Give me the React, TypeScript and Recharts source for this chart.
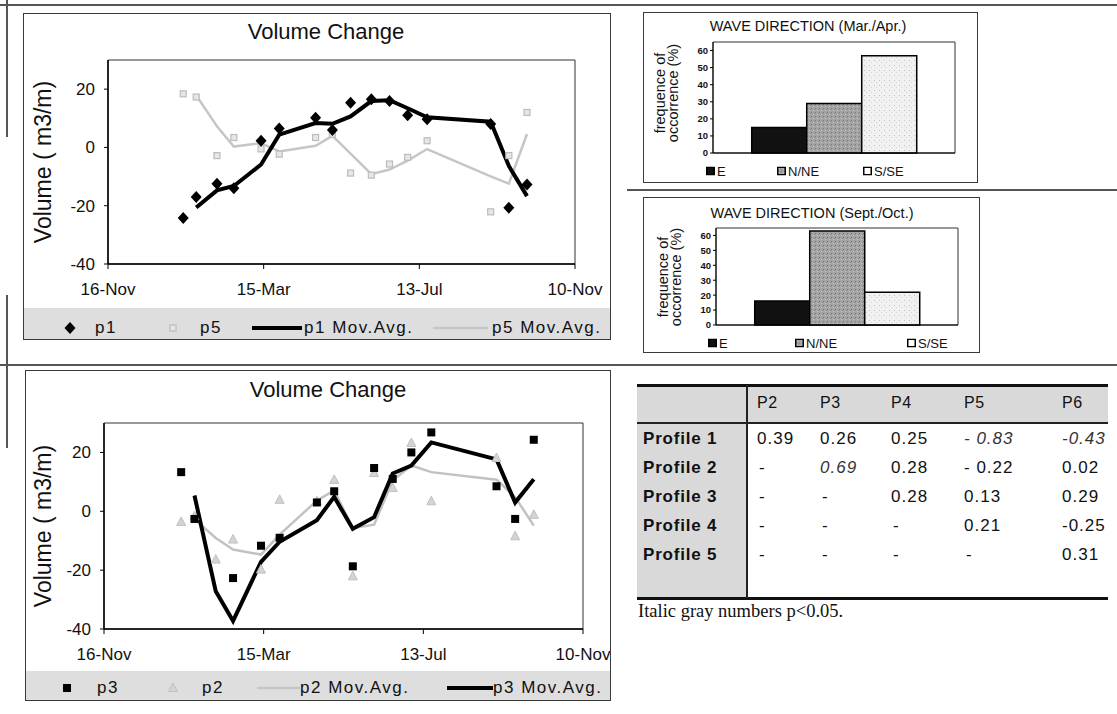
import React from 'react';
import { ComposedChart, Line, Scatter, XAxis, YAxis, ReferenceArea, BarChart, Bar } from 'recharts';

const SANS = "'Liberation Sans', Arial, Helvetica, sans-serif";
const SERIF = "'Liberation Serif', 'Times New Roman', serif";

// Survey dates, counted in days after 16-Nov
const surveyDays = [58, 68, 84, 97, 118, 132, 160, 173, 187, 203, 217, 231, 246, 295, 309, 323];
const dateTicks = [0, 120, 240, 360];
const dateTickLabels = ['16-Nov', '15-Mar', '13-Jul', '10-Nov'];
const volumeTicks = [-40, -20, 0, 20];

// Volume change per beach profile (m3/m)
const p1Volume = [-24.2, -17, -12.5, -14, 2.3, 6.5, 10.2, 6, 15.3, 16.5, 15.9, 11, 9.7, 8, -20.7, -12.7];
const p5Volume = [18.4, 17.3, -2.8, 3.4, -0.5, -2.3, 3.4, 4.5, -8.8, -9.5, -5.7, -3.4, 2.3, -22.1, -2.8, 12];
const p3Volume = [13.3, -2.6, -51.8, -22.7, -11.7, -9, 3, 6.8, -18.7, 14.7, 11, 20, 26.8, 8.5, -2.6, 24.3];
const p2Volume = [-3.6, -1.7, -16.4, -9.6, -19.8, 3.9, 3.4, 10.7, -22.1, 13, 7.9, 23.2, 3.4, 18.1, -8.5, -1.2];

// Wave direction, frequency of occurrence (%)
const directionKeys = ['E', 'NNE', 'SSE'];
const directionLabels = ['E', 'N/NE', 'S/SE'];
const marAprFrequency = [15, 29, 57];
const septOctFrequency = [16, 63, 22];
const frequencyTicks = [0, 10, 20, 30, 40, 50, 60];

// Correlation between profiles
const profileColumns = ['P2', 'P3', 'P4', 'P5', 'P6'];
const profileRows = ['Profile 1', 'Profile 2', 'Profile 3', 'Profile 4', 'Profile 5'];
const correlationRows = [
  ['0.39', '0.26', '0.25', '- 0.83', '-0.43'],
  ['-', '0.69', '0.28', '- 0.22', '0.02'],
  ['-', '-', '0.28', '0.13', '0.29'],
  ['-', '-', '-', '0.21', '-0.25'],
  ['-', '-', '-', '-', '0.31'],
];
const significantCells = ['0-3', '0-4', '1-1'];

// Two-period moving average, as drawn by the trendline
const movingAverage = (values: number[]) =>
  values.map((v, i) => (i === 0 ? null : (values[i - 1] + v) / 2));

const topRows = surveyDays.map((day, i) => ({
  day,
  p1: p1Volume[i],
  p5: p5Volume[i],
  p1Avg: movingAverage(p1Volume)[i],
  p5Avg: movingAverage(p5Volume)[i],
}));

const bottomRows = surveyDays.map((day, i) => ({
  day,
  p3: p3Volume[i],
  p2: p2Volume[i],
  p3Avg: movingAverage(p3Volume)[i],
  p2Avg: movingAverage(p2Volume)[i],
}));

const blackDiamond = (p: any) => (
  <path d={`M${p.cx} ${p.cy - 6}L${p.cx + 5.5} ${p.cy}L${p.cx} ${p.cy + 6}L${p.cx - 5.5} ${p.cy}Z`} fill="#000" />
);
const blackSquare = (p: any) => <rect x={p.cx - 4} y={p.cy - 4} width={8} height={8} fill="#000" />;
const graySquare = (p: any) => (
  <rect x={p.cx - 3} y={p.cy - 3} width={6} height={6} fill="#e6e6e6" stroke="#bcbcbc" strokeWidth={1.2} />
);
const grayTriangle = (p: any) => (
  <path d={`M${p.cx} ${p.cy - 5}L${p.cx + 4.5} ${p.cy + 3.5}L${p.cx - 4.5} ${p.cy + 3.5}Z`} fill="#d4d4d4" stroke="#c0c0c0" />
);

type LegendEntry = { icon: 'diamond' | 'square' | 'graySquare' | 'triangle' | 'blackLine' | 'grayLine'; iconX: number; iconW?: number; textX: number; label: string };

function LegendIcon({ icon, w }: { icon: LegendEntry['icon']; w: number }) {
  if (icon === 'blackLine') return <svg width={w} height={6}><line x1={0} y1={3} x2={w} y2={3} stroke="#000" strokeWidth={4} /></svg>;
  if (icon === 'grayLine') return <svg width={w} height={6}><line x1={0} y1={3} x2={w} y2={3} stroke="#c6c6c6" strokeWidth={2.5} /></svg>;
  return (
    <svg width={14} height={14}>
      {icon === 'diamond' && blackDiamond({ cx: 7, cy: 7 })}
      {icon === 'square' && blackSquare({ cx: 7, cy: 7 })}
      {icon === 'graySquare' && graySquare({ cx: 7, cy: 7 })}
      {icon === 'triangle' && grayTriangle({ cx: 7, cy: 7 })}
    </svg>
  );
}

type SeriesDef = { key: string; kind: 'line' | 'points'; color?: string; width?: number; shape?: (p: any) => React.ReactElement };

function VolumePanel(props: {
  left: number; top: number; width: number; height: number;
  inset: { top: number; right: number; bottom: number; left: number };
  rows: any[]; series: SeriesDef[];
  titleX: number; titleY: number; yTitleX: number; yTitleY: number;
  bandTop: number; legendY: number; legend: LegendEntry[];
}) {
  const { left, top, width, height, inset, rows, series } = props;
  return (
    <div style={{ position: 'absolute', left, top, width, height }}>
      <div style={{ position: 'absolute', left: 0, right: 0, top: props.bandTop, bottom: 0, background: '#dedede' }} />
      <div style={{ position: 'absolute', left: 0, top: 0 }}>
        <ComposedChart width={width} height={height} data={rows} margin={{ top: inset.top, right: inset.right, bottom: 0, left: 0 }}>
          <XAxis
            dataKey="day" type="number" domain={[0, 360]} ticks={dateTicks} interval={0}
            tickFormatter={(v: number) => dateTickLabels[dateTicks.indexOf(v)]}
            height={inset.bottom} tickSize={5} tickMargin={14}
            axisLine={{ stroke: '#000', strokeWidth: 1.5 }} tickLine={{ stroke: '#000' }}
            tick={{ fontSize: 17, fill: '#111', fontFamily: SANS }}
          />
          <YAxis
            type="number" domain={[-40, 30]} allowDataOverflow ticks={volumeTicks} interval={0}
            width={inset.left} tickSize={4} tickMargin={9}
            axisLine={{ stroke: '#000', strokeWidth: 1.5 }} tickLine={{ stroke: '#000' }}
            tick={{ fontSize: 17, fill: '#111', fontFamily: SANS }}
          />
          <ReferenceArea x1={0} x2={360} y1={-40} y2={30} fill="none" stroke="#333" strokeWidth={1} />
          {series.map((s) =>
            s.kind === 'line' ? (
              <Line key={s.key} dataKey={s.key} type="linear" stroke={s.color} strokeWidth={s.width} dot={false} activeDot={false} isAnimationActive={false} />
            ) : (
              <Scatter key={s.key} dataKey={s.key} shape={s.shape} isAnimationActive={false} />
            )
          )}
        </ComposedChart>
      </div>
      <div style={{ position: 'absolute', left: props.titleX, top: props.titleY, transform: 'translate(-50%,-50%)', fontSize: 22, whiteSpace: 'nowrap' }}>Volume Change</div>
      <div style={{ position: 'absolute', left: props.yTitleX, top: props.yTitleY, transform: 'translate(-50%,-50%) rotate(-90deg)', fontSize: 23, whiteSpace: 'nowrap' }}>Volume ( m3/m)</div>
      {props.legend.map((e) => (
        <React.Fragment key={e.label}>
          <div style={{ position: 'absolute', left: e.iconX, top: props.legendY, transform: 'translateY(-50%)', lineHeight: 0 }}>
            <LegendIcon icon={e.icon} w={e.iconW ?? 14} />
          </div>
          <div style={{ position: 'absolute', left: e.textX, top: props.legendY, transform: 'translateY(-50%)', fontSize: 17, letterSpacing: 1.5, whiteSpace: 'nowrap' }}>{e.label}</div>
        </React.Fragment>
      ))}
      <div style={{ position: 'absolute', inset: 0, border: '1.5px solid #3a3a3a', pointerEvents: 'none' }} />
    </div>
  );
}

function PatternDefs() {
  return (
    <svg width={0} height={0} style={{ position: 'absolute' }}>
      <defs>
        <pattern id="stippleMid" width={4} height={4} patternUnits="userSpaceOnUse">
          <rect width={4} height={4} fill="#a4a4a4" />
          <rect x={0} y={0} width={1} height={1} fill="#777" />
          <rect x={2} y={2} width={1} height={1} fill="#cacaca" />
          <rect x={3} y={1} width={1} height={1} fill="#8a8a8a" />
        </pattern>
        <pattern id="stippleLight" width={5} height={5} patternUnits="userSpaceOnUse">
          <rect width={5} height={5} fill="#f1f1f1" />
          <rect x={1} y={3} width={1} height={1} fill="#c2c2c2" />
          <rect x={3} y={0} width={1} height={1} fill="#d6d6d6" />
        </pattern>
      </defs>
    </svg>
  );
}

const swatchFill = ['#111', 'url(#stippleMid)', '#fff'];

function FrequencyPanel(props: {
  left: number; top: number; width: number; height: number;
  inset: { top: number; right: number; bottom: number; left: number };
  title: string; titleX: number; titleY: number; yLabelX: number; yLabelY: number;
  values: number[]; legendX: number[]; legendY: number;
}) {
  const { left, top, width, height, inset } = props;
  const row: Record<string, string | number> = { group: 'all' };
  directionKeys.forEach((k, i) => { row[k] = props.values[i]; });
  const fills = ['#111', 'url(#stippleMid)', 'url(#stippleLight)'];
  return (
    <div style={{ position: 'absolute', left, top, width, height }}>
      <div style={{ position: 'absolute', left: 0, top: 0 }}>
        <BarChart width={width} height={height} data={[row]} margin={{ top: inset.top, right: inset.right, bottom: 0, left: 0 }} barCategoryGap="16%" barGap={0}>
          <XAxis dataKey="group" tick={false} tickLine={false} height={inset.bottom} axisLine={{ stroke: '#000', strokeWidth: 1.2 }} />
          <YAxis
            type="number" domain={[0, 65]} ticks={frequencyTicks} interval={0} width={inset.left}
            tickSize={3} tickMargin={2} axisLine={{ stroke: '#000' }} tickLine={{ stroke: '#000' }}
            tick={{ fontSize: 9.5, fill: '#111', fontFamily: SANS, fontWeight: 700 }}
          />
          <ReferenceArea y1={0} y2={65} fill="none" stroke="#333" strokeWidth={1} />
          {directionKeys.map((k, i) => (
            <Bar key={k} dataKey={k} fill={fills[i]} stroke="#000" strokeWidth={1.5} isAnimationActive={false} />
          ))}
        </BarChart>
      </div>
      <div style={{ position: 'absolute', left: props.titleX, top: props.titleY, transform: 'translate(-50%,-50%)', fontSize: 14.5, whiteSpace: 'nowrap' }}>{props.title}</div>
      <div style={{ position: 'absolute', left: props.yLabelX, top: props.yLabelY, transform: 'translate(-50%,-50%) rotate(-90deg)', fontSize: 14.5, lineHeight: '12.5px', textAlign: 'center', whiteSpace: 'nowrap' }}>
        frequence of<br />occorrence (%)
      </div>
      {directionLabels.map((label, i) => (
        <div key={label} style={{ position: 'absolute', left: props.legendX[i], top: props.legendY, transform: 'translateY(-50%)', display: 'flex', alignItems: 'center', fontSize: 13, whiteSpace: 'nowrap' }}>
          <svg width={9} height={9} style={{ marginRight: 2 }}>
            <rect x={0.75} y={0.75} width={7.5} height={7.5} fill={swatchFill[i]} stroke="#000" strokeWidth={1.5} />
          </svg>
          {label}
        </div>
      ))}
      <div style={{ position: 'absolute', inset: 0, border: '1.5px solid #3a3a3a', pointerEvents: 'none' }} />
    </div>
  );
}

// Table layout
const tableLeft = 637;
const tableRight = 1108;
const tableTop = 385;
const headerBottom = 423;
const tableBottom = 598;
const firstColRight = 747;
const columnX = [757, 820, 891, 964, 1062];
const headerY = 403;
const rowY = [439, 468, 497, 526, 555];

function CorrelationTable() {
  const abs = (l: number, t: number, w: number, h: number, bg: string): React.CSSProperties => ({ position: 'absolute', left: l, top: t, width: w, height: h, background: bg });
  return (
    <>
      <div style={abs(tableLeft, tableTop, tableRight - tableLeft, headerBottom - tableTop, '#d9d9d9')} />
      <div style={abs(tableLeft, headerBottom, firstColRight - tableLeft, tableBottom - headerBottom, '#d9d9d9')} />
      <div style={abs(tableLeft, tableTop - 1.5, tableRight - tableLeft, 3, '#111')} />
      <div style={abs(tableLeft, headerBottom - 1, tableRight - tableLeft, 2, '#222')} />
      <div style={abs(tableLeft, tableBottom - 1.5, tableRight - tableLeft, 3, '#111')} />
      <div style={abs(firstColRight - 1, tableTop, 2, tableBottom - tableTop, '#222')} />
      {profileColumns.map((c, j) => (
        <div key={c} style={{ position: 'absolute', left: columnX[j], top: headerY, transform: 'translateY(-50%)', fontSize: 16, letterSpacing: 0.5 }}>{c}</div>
      ))}
      {profileRows.map((r, i) => (
        <React.Fragment key={r}>
          <div style={{ position: 'absolute', left: 643, top: rowY[i], transform: 'translateY(-50%)', fontSize: 17, fontWeight: 700, letterSpacing: 0.8, whiteSpace: 'nowrap' }}>{r}</div>
          {correlationRows[i].map((v, j) => {
            const sig = significantCells.includes(`${i}-${j}`);
            return (
              <div key={j} style={{ position: 'absolute', left: columnX[j] + (v === '-' ? 2 : 0), top: rowY[i], transform: 'translateY(-50%)', fontSize: 17, letterSpacing: 1, whiteSpace: 'pre', fontStyle: sig ? 'italic' : 'normal', color: sig ? '#333' : '#111' }}>{v}</div>
            );
          })}
        </React.Fragment>
      ))}
      <div style={{ position: 'absolute', left: 638, top: 611, transform: 'translateY(-50%)', fontFamily: SERIF, fontSize: 18.5, whiteSpace: 'nowrap' }}>Italic gray numbers p&lt;0.05.</div>
    </>
  );
}

function PageRules() {
  const rule = (l: number, t: number, w: number, h: number, c = '#555'): React.CSSProperties => ({ position: 'absolute', left: l, top: t, width: w, height: h, background: c });
  return (
    <>
      <div style={rule(0, 4, 1117, 1.5)} />
      <div style={rule(627, 189, 490, 1.5)} />
      <div style={rule(0, 364, 1117, 1.5)} />
      <div style={rule(6, 0, 2, 137)} />
      <div style={rule(6, 295, 2, 153)} />
    </>
  );
}

const topSeries: SeriesDef[] = [
  { key: 'p5Avg', kind: 'line', color: '#c6c6c6', width: 2.5 },
  { key: 'p5', kind: 'points', shape: graySquare },
  { key: 'p1', kind: 'points', shape: blackDiamond },
  { key: 'p1Avg', kind: 'line', color: '#000', width: 4 },
];

const bottomSeries: SeriesDef[] = [
  { key: 'p2Avg', kind: 'line', color: '#c2c2c2', width: 2.5 },
  { key: 'p2', kind: 'points', shape: grayTriangle },
  { key: 'p3', kind: 'points', shape: blackSquare },
  { key: 'p3Avg', kind: 'line', color: '#000', width: 4 },
];

export default function App() {
  return (
    <div style={{ position: 'absolute', left: 0, top: 0, width: 1117, height: 714, background: '#fff', overflow: 'hidden', fontFamily: SANS, color: '#111' }}>
      <PatternDefs />
      <PageRules />
      <VolumePanel
        left={23} top={13} width={588} height={327}
        inset={{ top: 47, right: 36, bottom: 76, left: 85 }}
        rows={topRows} series={topSeries}
        titleX={303} titleY={19} yTitleX={20} yTitleY={149}
        bandTop={295} legendY={315}
        legend={[
          { icon: 'diamond', iconX: 40, textX: 72, label: 'p1' },
          { icon: 'graySquare', iconX: 143, textX: 177, label: 'p5' },
          { icon: 'blackLine', iconX: 229, iconW: 50, textX: 281, label: 'p1 Mov.Avg.' },
          { icon: 'grayLine', iconX: 410, iconW: 55, textX: 469, label: 'p5 Mov.Avg.' },
        ]}
      />
      <VolumePanel
        left={25} top={370} width={586} height={331}
        inset={{ top: 53, right: 28, bottom: 72, left: 79 }}
        rows={bottomRows} series={bottomSeries}
        titleX={303} titleY={20} yTitleX={18} yTitleY={156}
        bandTop={301} legendY={318}
        legend={[
          { icon: 'square', iconX: 35, textX: 72, label: 'p3' },
          { icon: 'triangle', iconX: 141, textX: 177, label: 'p2' },
          { icon: 'grayLine', iconX: 232, iconW: 43, textX: 275, label: 'p2 Mov.Avg.' },
          { icon: 'blackLine', iconX: 422, iconW: 46, textX: 468, label: 'p3 Mov.Avg.' },
        ]}
      />
      <FrequencyPanel
        left={643} top={12} width={335} height={171}
        inset={{ top: 30, right: 23, bottom: 30, left: 70 }}
        title="WAVE DIRECTION (Mar./Apr.)" titleX={165} titleY={14}
        yLabelX={23} yLabelY={80.5}
        values={marAprFrequency} legendX={[63, 134, 220]} legendY={159}
      />
      <FrequencyPanel
        left={643} top={197} width={337} height={156}
        inset={{ top: 31, right: 22, bottom: 28, left: 73 }}
        title="WAVE DIRECTION (Sept./Oct.)" titleX={169} titleY={16}
        yLabelX={26} yLabelY={80}
        values={septOctFrequency} legendX={[65, 152, 264]} legendY={146}
      />
      <CorrelationTable />
    </div>
  );
}
